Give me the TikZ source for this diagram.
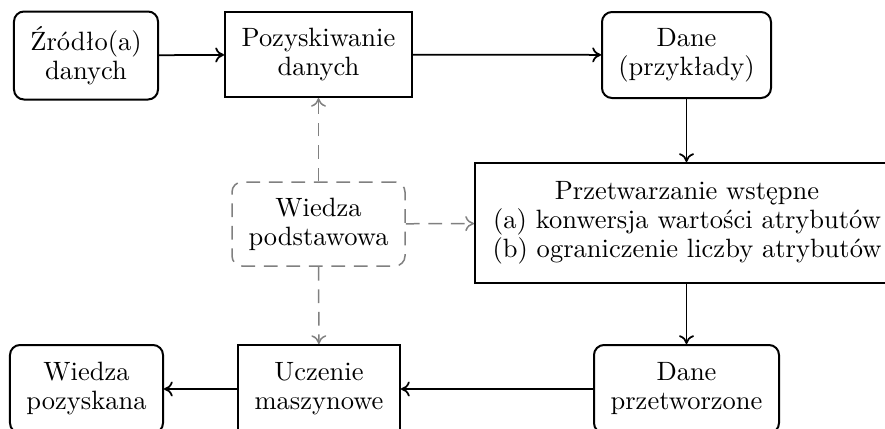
\documentclass[tikz,border=0pt]{standalone}
\usepackage{fontspec}
\usetikzlibrary{arrows.meta}
\begin{document}
\begin{tikzpicture}[x=0.4pt,y=-0.4pt,
  txt/.style={font=\fontsize{10.6}{11.6}\selectfont},
  box/.style={draw, line width=0.8pt, align=center, inner sep=0pt, txt},
  rbox/.style={box, rounded corners=4pt},
  kbox/.style={draw=gray, line width=0.6pt, dash pattern=on 5.5pt off 3.5pt, rounded corners=4pt, align=center, inner sep=0pt, txt},
  arr/.style={-{To[length=3.5pt,width=6pt]}, line width=0.7pt},
  darr/.style={-{To[length=3.5pt,width=6pt]}, draw=gray, line width=0.6pt, dash pattern=on 5.5pt off 3.5pt}]
\useasboundingbox (0,0) rectangle (885,428);
\clip (0,0) rectangle (885,428);
\node[rbox, minimum width=57.6pt, minimum height=35.2pt] (zrodlo) at (86,55.5) {Źródło(a)\\danych};
\node[box, minimum width=74.8pt, minimum height=34pt] (pozysk) at (318.5,54.5) {Pozyskiwanie\\danych};
\node[rbox, minimum width=67.6pt, minimum height=34.4pt] (dane1) at (686.5,55) {Dane\\(przykłady)};
\node[box, minimum width=169.6pt, minimum height=48pt] (przetw) at (687,223) {Przetwarzanie wstępne\\(a) konwersja wartości atrybutów\\(b) ograniczenie liczby atrybutów};
\node[kbox, minimum width=69.2pt, minimum height=33.6pt] (wiedza) at (318.5,224) {Wiedza\\podstawowa};
\node[rbox, minimum width=61.2pt, minimum height=35.2pt] (pozyskana) at (86.5,389) {Wiedza\\pozyskana};
\node[box, minimum width=64.8pt, minimum height=35.2pt] (uczenie) at (319,389) {Uczenie\\maszynowe};
\node[rbox, minimum width=74pt, minimum height=35.2pt] (dane2) at (686.5,389) {Dane\\przetworzone};
\draw[arr] (zrodlo) -- (pozysk);
\draw[arr] (pozysk) -- (dane1);
\draw[arr] (dane1) -- (dane1 |- przetw.north);
\draw[arr] (dane2 |- przetw.south) -- (dane2);
\draw[arr] (dane2) -- (uczenie);
\draw[arr] (uczenie) -- (pozyskana);
\draw[darr] (wiedza) -- (pozysk);
\draw[darr] (wiedza) -- (przetw);
\draw[darr] (wiedza) -- (uczenie);
\end{tikzpicture}
\end{document}
